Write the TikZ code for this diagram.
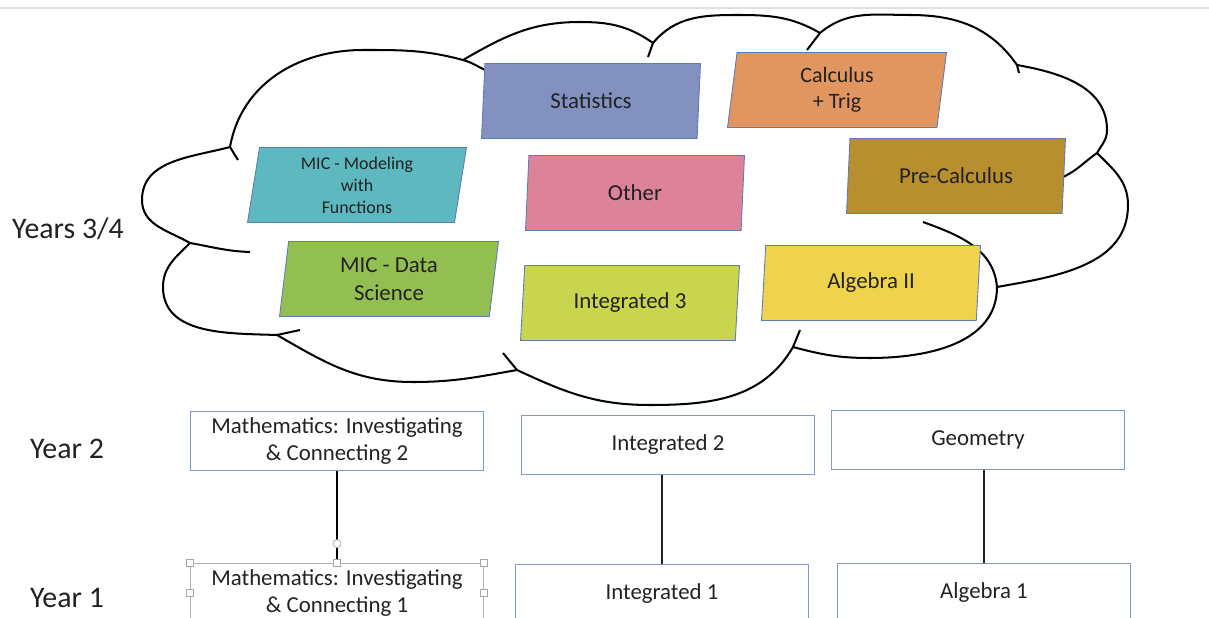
\documentclass[tikz,border=0pt]{standalone}
\usepackage{fontspec}
\setmainfont{Carlito}
\usetikzlibrary{shapes.geometric,calc}

\definecolor{statcol}{HTML}{8291BF}
\definecolor{calccol}{HTML}{E1955F}
\definecolor{modcol}{HTML}{5DB8BF}
\definecolor{othercol}{HTML}{DC8299}
\definecolor{precol}{HTML}{B88F2F}
\definecolor{datacol}{HTML}{93BF52}
\definecolor{intcol}{HTML}{C9D54F}
\definecolor{algcol}{HTML}{EFD34D}
\definecolor{edgecol}{HTML}{5F7DB5}
\definecolor{boxcol}{HTML}{7F98C6}
\definecolor{inkcol}{HTML}{222222}

\tikzset{
  course/.style={trapezium, trapezium left angle=78, trapezium right angle=102,
    trapezium stretches body=true, minimum width=4.38cm, minimum height=1.5cm, inner sep=0pt,
    draw=edgecol, line width=0.5pt, text=inkcol, align=center,
    font=\fontsize{13}{15}\selectfont},
  yearbox/.style={rectangle, draw=boxcol, line width=0.7pt, minimum width=5.86cm,
    minimum height=1.18cm, text=inkcol, align=center, font=\fontsize{13}{15.9}\selectfont},
  yearlabel/.style={text=inkcol, font=\fontsize{17}{20}\selectfont},
  cloudline/.style={line width=1.15pt, black},
  handle/.style={fill=white, draw=gray!70, line width=0.4pt}
}

\begin{document}
\begin{tikzpicture}[x=0.02cm, y=-0.02cm]
  \useasboundingbox (0,0) rectangle (1209,618);
  \draw[gray!25, line width=1pt] (0,8) -- (1209,8);

  \draw[cloudline] (230,147) to[out=80,in=180] (363,50) to[out=0,in=165] (463,60)
    to[out=30,in=180] (580,22) to[out=0,in=145] (653,43)
    to[out=50,in=180] (737,15) to[out=0,in=150] (820,33)
    to[out=40,in=180] (910,15) to[out=0,in=125] (1017,65)
    to[out=-10,in=90] (1107,130) to[out=-90,in=60] (1097,153)
    to[out=-45,in=90] (1128,205) to[out=-90,in=10] (997,287)
    to[out=-90,in=0] (870,358) to[out=180,in=-15] (793,347)
    to[out=-120,in=0] (650,405) to[out=180,in=-25] (517,370)
    to[out=-170,in=0] (413,382) to[out=180,in=-30] (277,335)
    to[out=178,in=-90] (163,287) to[out=90,in=-135] (190,243)
    to[out=150,in=-90] (142,200) to[out=90,in=-165] cycle;
  \draw[cloudline] (230,147) -- (238,160);
  \draw[cloudline] (463,60) to[out=-15,in=160] (490,72);
  \draw[cloudline] (653,43) -- (648,57);
  \draw[cloudline] (820,33) -- (807,50);
  \draw[cloudline] (1017,65) -- (1019,73);
  \draw[cloudline] (1097,153) to[out=-145,in=25] (1063,177);
  \draw[cloudline] (997,287) to[out=95,in=-20] (923,222);
  \draw[cloudline] (793,347) -- (800,330);
  \draw[cloudline] (517,370) -- (503,353);
  \draw[cloudline] (277,335) -- (300,330);
  \draw[cloudline] (190,243) to[out=-10,in=178] (250,252);

  \node[course, fill=statcol] (stats) at (591,101) {Statistics};
  \node[course, fill=calccol, font=\fontsize{12.5}{14.7}\selectfont] (calc) at (837,90) {Calculus\\+ Trig};
  \node[course, fill=modcol, font=\fontsize{10.2}{12.5}\selectfont] (micmod) at (357,185) {MIC - Modeling\\with\\Functions};
  \node[course, fill=othercol] (other) at (635,193) {Other};
  \node[course, fill=precol] (precalc) at (956,176) {Pre-Calculus};
  \node[course, fill=datacol, font=\fontsize{13}{15.9}\selectfont] (micdata) at (389,279) {MIC - Data\\Science};
  \node[course, fill=intcol] (intthree) at (630,303) {Integrated 3};
  \node[course, fill=algcol] (algtwo) at (871,283) {Algebra II};

  \node[yearlabel] (ythreefour) at (68,229) {Years 3/4};
  \node[yearlabel] (ytwo) at (67,449) {Year 2};
  \node[yearlabel] (yone) at (67,598) {Year 1};

  \node[yearbox] (micii) at (337,441) {Mathematics: Investigating\\\& Connecting 2};
  \node[yearbox] (intii) at (668,445) {Integrated 2};
  \node[yearbox] (geom) at (978,440) {Geometry};
  \node[yearbox, draw=gray!60] (mici) at (337,593) {Mathematics: Investigating\\\& Connecting 1};
  \node[yearbox] (inti) at (662,594) {Integrated 1};
  \node[yearbox] (algi) at (984,593) {Algebra 1};

  \draw[black, line width=1.1pt] (micii.south) -- (mici.north);
  \draw[inkcol, line width=0.8pt] (intii.south -| inti.north) -- (inti.north);
  \draw[inkcol, line width=0.8pt] (geom.south -| algi.north) -- (algi.north);

  \foreach \a in {north west, north, north east, west, east}
    \filldraw[handle] ($(mici.\a)+(-3.5,-3.5)$) rectangle +(7,7);
  \filldraw[handle] ($(mici.north)+(0,-19)$) circle (4);
\end{tikzpicture}
\end{document}
